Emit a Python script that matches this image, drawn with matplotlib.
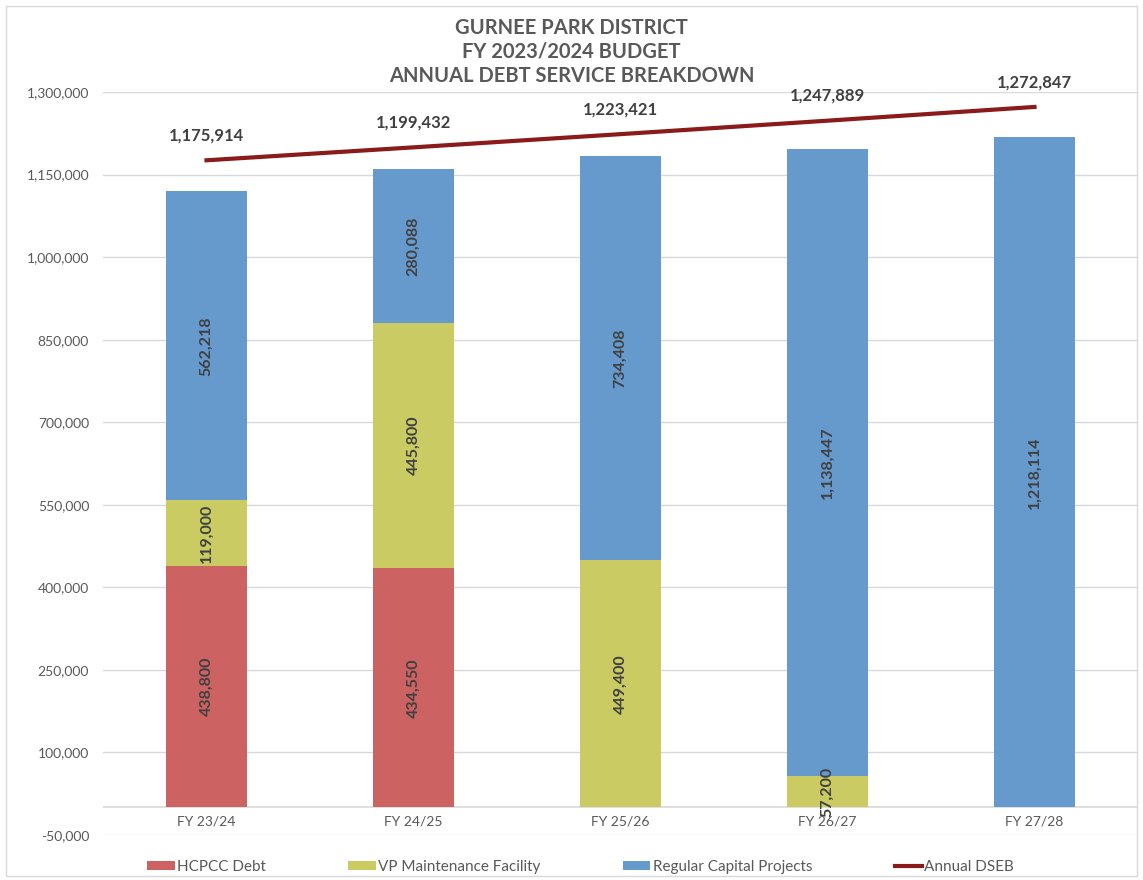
import numpy as np
import matplotlib.pyplot as plt
from matplotlib.ticker import FuncFormatter
from matplotlib.patches import Rectangle

plt.rcParams['font.family'] = ['Lato', 'DejaVu Sans']

years = ['FY 23/24', 'FY 24/25', 'FY 25/26', 'FY 26/27', 'FY 27/28']
hcpcc = [438800, 434550, 0, 0, 0]
vp = [119000, 445800, 449400, 57200, 0]
regular = [562218, 280088, 734408, 1138447, 1218114]
dseb = [1175914, 1199432, 1223421, 1247889, 1272847]

c_red = '#CD6262'
c_yel = '#CACB63'
c_blue = '#6699CC'
c_line = '#8B1A1A'

fig = plt.figure(figsize=(11.43, 8.8), dpi=100)
ax = fig.add_axes([103/1143, 1-835/880, (1138-103)/1143, (835-92)/880])

x = np.arange(len(years))
w = 0.39
hcpcc = np.array(hcpcc)
vp = np.array(vp)
regular = np.array(regular)

b1 = ax.bar(x, hcpcc, w, color=c_red, label='HCPCC Debt', zorder=2)
b2 = ax.bar(x, vp, w, bottom=hcpcc, color=c_yel, label='VP Maintenance Facility', zorder=2)
b3 = ax.bar(x, regular, w, bottom=hcpcc + vp, color=c_blue, label='Regular Capital Projects', zorder=2)
l1, = ax.plot(x, dseb, color=c_line, lw=3, label='Annual DSEB', zorder=3)

# segment labels
for vals, bottoms in [(hcpcc, 0 * hcpcc), (vp, hcpcc), (regular, hcpcc + vp)]:
    for i in range(len(x)):
        if vals[i] > 0:
            ax.text(x[i], bottoms[i] + vals[i] / 2, f'{vals[i]:,}', rotation=90,
                    ha='center', va='center', fontsize=11.5, fontweight='bold',
                    color='#404040', zorder=4)

for i in range(len(x)):
    ax.annotate(f'{dseb[i]:,}', (x[i], dseb[i]), xytext=(0, 12), textcoords='offset points',
                ha='center', va='bottom', fontsize=12, fontweight='bold', color='#404040')

ax.set_xlim(-0.5, 4.5)
ax.set_ylim(-50000, 1300000)
ax.set_yticks(np.arange(-50000, 1300001, 150000))
ax.yaxis.set_major_formatter(FuncFormatter(lambda v, p: f'{int(v):,}'))
ax.grid(axis='y', color='#D9D9D9', lw=1, zorder=0)
ax.axhline(0, color='#D9D9D9', lw=1.2, zorder=1)
for s in ax.spines.values():
    s.set_visible(False)
ax.tick_params(axis='y', length=0, labelsize=10, labelcolor='#595959', pad=10)
ax.tick_params(axis='x', length=0, labelsize=10, labelcolor='#595959', pad=-14)
ax.set_xticks(x)
ax.set_xticklabels(years)

fig.text(0.5, 1-52/880, 'GURNEE PARK DISTRICT\nFY 2023/2024 BUDGET\nANNUAL DEBT SERVICE BREAKDOWN',
         ha='center', va='center', fontsize=14.5, fontweight='bold', color='#595959', linespacing=1.26)

fig.legend([b1, b2, b3, l1], ['HCPCC Debt', 'VP Maintenance Facility', 'Regular Capital Projects', 'Annual DSEB'],
           loc='center', bbox_to_anchor=(0.508, 1-867/880), ncol=4, frameon=False,
           fontsize=11, handlelength=1.8, handleheight=0.5, columnspacing=5.4,
           handletextpad=0.15, labelcolor='#595959')

fig.patches.append(Rectangle((6/1143, 4/880), 1-12/1143, 1-10/880, transform=fig.transFigure,
                             fill=False, edgecolor='#D9D9D9', lw=1))

fig.savefig('out.png', dpi=100)
